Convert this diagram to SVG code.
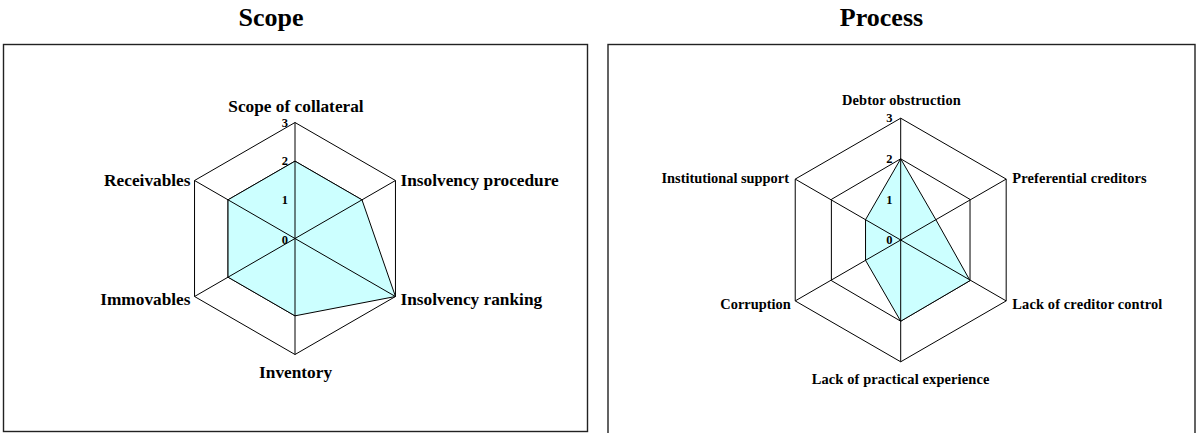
<svg xmlns="http://www.w3.org/2000/svg" width="1196" height="433" viewBox="0 0 1196 433">
<style>
.frame{fill:#fff;stroke:#222;stroke-width:1.4}
.grid{fill:none;stroke:#000;stroke-width:1}
.axis{stroke:#000;stroke-width:1}
.area{fill:#ccffff;stroke:none}
.outline{fill:none;stroke:#000;stroke-width:1;stroke-linejoin:miter}
text{font-family:"Liberation Serif","Times New Roman",serif;font-weight:bold;fill:#000}
.title{font-size:26px;text-anchor:middle}
.lblL{font-size:17.3px}
.lblR{font-size:14.4px}
.num{font-size:12.5px;text-anchor:end}
.mid{text-anchor:middle}
.end{text-anchor:end}
</style>
<rect width="1196" height="433" fill="#fff"/>

<g id="scope-chart">
<text class="title" x="271" y="26">Scope</text>
<rect class="frame" x="3.5" y="44.5" width="584" height="387"/>
<polygon class="grid" points="295,122.5 395.46,180.5 395.46,296.5 295,354.5 194.54,296.5 194.54,180.5"/>
<polygon class="grid" points="295,161.17 361.97,199.83 361.97,277.17 295,315.83 228.03,277.17 228.03,199.83"/>
<polygon class="area" points="295,161.17 361.97,199.83 395.46,296.5 295,315.83 228.03,277.17 228.03,199.83"/>
<g id="scope-axes">
<line class="axis" x1="295" y1="238.5" x2="295" y2="122.5"/>
<line class="axis" x1="295" y1="238.5" x2="395.46" y2="180.5"/>
<line class="axis" x1="295" y1="238.5" x2="395.46" y2="296.5"/>
<line class="axis" x1="295" y1="238.5" x2="295" y2="354.5"/>
<line class="axis" x1="295" y1="238.5" x2="194.54" y2="296.5"/>
<line class="axis" x1="295" y1="238.5" x2="194.54" y2="180.5"/>
</g>
<polygon class="outline" points="295,161.17 361.97,199.83 395.46,296.5 295,315.83 228.03,277.17 228.03,199.83"/>
<g id="scope-ticks">
<text class="num" x="288" y="126.5">3</text>
<text class="num" x="288" y="165.3">2</text>
<text class="num" x="288" y="204.3">1</text>
<text class="num" x="288" y="244">0</text>
</g>
<g id="scope-labels">
<text class="lblL mid" x="296" y="111.7">Scope of collateral</text>
<text class="lblL" x="400.5" y="186">Insolvency procedure</text>
<text class="lblL" x="400.5" y="304.5">Insolvency ranking</text>
<text class="lblL mid" x="295.6" y="377.5">Inventory</text>
<text class="lblL end" x="190.5" y="304.5">Immovables</text>
<text class="lblL end" x="190.5" y="186">Receivables</text>
</g>
</g>

<g id="process-chart">
<text class="title" x="881.5" y="26">Process</text>
<rect class="frame" x="608" y="44.5" width="587" height="400"/>
<polygon class="grid" points="900.7,118.2 1006.18,179.1 1006.18,300.9 900.7,361.8 795.22,300.9 795.22,179.1"/>
<polygon class="grid" points="900.7,158.8 970.02,199.4 970.02,280.6 900.7,321.2 831.38,280.6 831.38,199.4"/>
<polygon class="area" points="900.7,158.8 935.86,219.7 970.02,280.6 900.7,321.2 865.54,260.3 865.54,219.7"/>
<g id="process-axes">
<line class="axis" x1="900.7" y1="240" x2="900.7" y2="118.2"/>
<line class="axis" x1="900.7" y1="240" x2="1006.18" y2="179.1"/>
<line class="axis" x1="900.7" y1="240" x2="1006.18" y2="300.9"/>
<line class="axis" x1="900.7" y1="240" x2="900.7" y2="361.8"/>
<line class="axis" x1="900.7" y1="240" x2="795.22" y2="300.9"/>
<line class="axis" x1="900.7" y1="240" x2="795.22" y2="179.1"/>
</g>
<polygon class="outline" points="900.7,158.8 935.86,219.7 970.02,280.6 900.7,321.2 865.54,260.3 865.54,219.7"/>
<g id="process-ticks">
<text class="num" x="892.5" y="121.7">3</text>
<text class="num" x="892.5" y="163.3">2</text>
<text class="num" x="892.5" y="204.3">1</text>
<text class="num" x="892.5" y="244.3">0</text>
</g>
<g id="process-labels">
<text class="lblR mid" x="901.4" y="105.3" textLength="118.8">Debtor obstruction</text>
<text class="lblR" x="1012.3" y="182.7" textLength="134.4">Preferential creditors</text>
<text class="lblR" x="1012.3" y="309" textLength="150">Lack of creditor control</text>
<text class="lblR mid" x="900.5" y="384" textLength="177.6">Lack of practical experience</text>
<text class="lblR end" x="790.7" y="309">Corruption</text>
<text class="lblR end" x="789" y="183">Institutional support</text>
</g>
</g>
</svg>
